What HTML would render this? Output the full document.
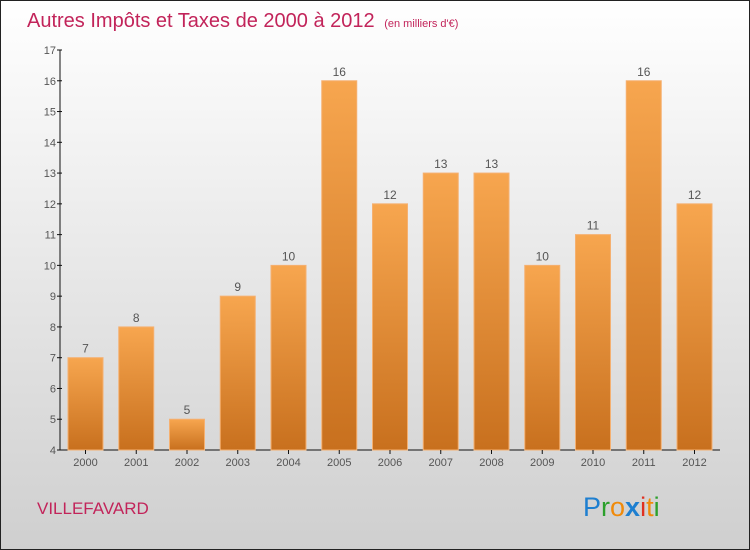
<!DOCTYPE html>
<html><head><meta charset="utf-8"><style>
body{margin:0}
#c{position:relative;width:750px;height:550px;overflow:hidden;font-family:"Liberation Sans",sans-serif}
</style></head><body>
<div id="c">
<svg width="750" height="550" xmlns="http://www.w3.org/2000/svg" id="svg">
<defs>
<linearGradient id="bg" x1="0" y1="0" x2="0" y2="1"><stop offset="0" stop-color="#ffffff"/><stop offset="1" stop-color="#cfcfcf"/></linearGradient>
<linearGradient id="bar" x1="0" y1="0" x2="0" y2="1"><stop offset="0" stop-color="#f7a64f"/><stop offset="1" stop-color="#c8701e"/></linearGradient>
</defs>
<rect x="0.5" y="0.5" width="749" height="549" fill="url(#bg)" stroke="#222"/>
<text x="27" y="27" font-size="20" fill="#c2245a">Autres Impôts et Taxes de 2000 à 2012 <tspan font-size="11" dx="4">(en milliers d'€)</tspan></text>
<g id="plot"></g>
<text x="37" y="514" font-size="17" fill="#c2245a">VILLEFAVARD</text>
<g font-size="27" font-family="'Liberation Sans',sans-serif">
<text x="583" y="516"><tspan fill="#1e7fd0">P</tspan><tspan fill="#2ca02c">r</tspan><tspan fill="#f08a0a">o</tspan><tspan fill="#1e7fd0" font-weight="bold">x</tspan><tspan fill="#e03020">i</tspan><tspan fill="#f08a0a">t</tspan><tspan fill="#2ca02c">i</tspan></text>
</g>
</svg>
</div>
<script>
const years=["2000","2001","2002","2003","2004","2005","2006","2007","2008","2009","2010","2011","2012"];
const values=[7,8,5,9,10,16,12,13,13,10,11,16,12];
const yTicks=[4,5,6,7,8,9,10,11,12,13,14,15,16,17];
const NS="http://www.w3.org/2000/svg";
const g=document.getElementById('plot');
const y=v=>450-(v-4)*(400/13);
const x=i=>85.5+i*50.75;
function mk(t,a){const e=document.createElementNS(NS,t);for(const k in a)e.setAttribute(k,a[k]);g.appendChild(e);return e;}
const ya=mk('line',{x1:60,y1:50,x2:60,y2:450,stroke:'#111'});


const xa=mk('line',{x1:60,y1:450,x2:720,y2:450,stroke:'#111'});


yTicks.forEach(t=>{
 mk('line',{x1:57,y1:y(t),x2:62,y2:y(t),stroke:'#111'});
 const l=mk('text',{x:56,y:y(t)+4,'font-size':11,fill:'#555','text-anchor':'end'});l.textContent=t;
 
 
});
values.forEach((v,i)=>{
 const r=mk('rect',{x:x(i)-17.5,y:y(v),width:35,height:450-y(v),fill:'url(#bar)',stroke:'#f5b070','stroke-width':1});
 
 
 const lv=mk('text',{x:x(i),y:y(v)-5,'font-size':12,fill:'#555','text-anchor':'middle'});lv.textContent=v;
 
 
 mk('line',{x1:x(i),y1:450,x2:x(i),y2:454,stroke:'#111'});
 const lx=mk('text',{x:x(i),y:466,'font-size':11,fill:'#555','text-anchor':'middle'});lx.textContent=years[i];
 
 
});
</script>
</body></html>
